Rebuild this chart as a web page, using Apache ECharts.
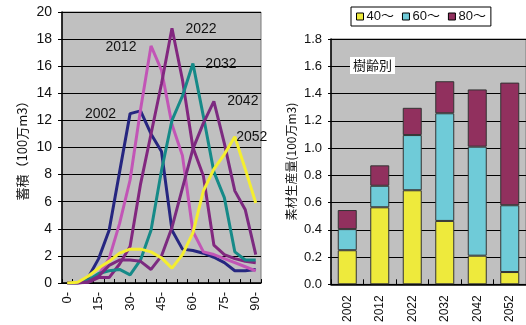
<!DOCTYPE html>
<html>
<head>
<meta charset="utf-8">
<script src="https://cdn.jsdelivr.net/npm/echarts@6/dist/echarts.min.js"></script>
<style>
  html, body { margin: 0; padding: 0; background: #ffffff; }
  #chart { width: 526px; height: 325px; }
</style>
</head>
<body>
<div id="chart"></div>
<script>
// Standing stock by age class (left) and timber output by tree age (right)
const ageClasses = ['0-','5-','10-','15-','20-','25-','30-','35-','40-','45-','50-','55-','60-','65-','70-','75-','80-','85-','90-'];
const yTicksLeft = [0, 2, 4, 6, 8, 10, 12, 14, 16, 18, 20];

const stock2002 = [0, 0, 0.4, 1.8, 3.9, 8.2, 12.5, 12.7, 11.0, 9.7, 3.9, 2.5, 2.4, 2.2, 1.9, 1.5, 0.9, 0.9, 1.0];
const stock2012 = [0, 0, 0.1, 0.6, 1.8, 4.4, 7.6, 12.8, 17.5, 15.7, 11.7, 9.4, 3.8, 2.3, 2.1, 1.8, 1.5, 1.2, 0.9];
const stock2022 = [0, 0, 0.05, 0.4, 0.4, 1.4, 2.7, 7.3, 11.0, 14.7, 18.8, 15.0, 10.0, 7.9, 2.8, 2.1, 1.8, 1.6, 1.5];
const stock2032 = [0, 0, 0.2, 0.7, 0.9, 1.0, 0.6, 1.7, 3.9, 8.3, 12.0, 13.8, 16.2, 12.3, 8.2, 6.3, 2.3, 1.7, 1.7];
const stock2042 = [0, 0, 0.1, 0.5, 1.3, 1.7, 1.7, 1.6, 1.0, 2.0, 4.1, 7.0, 9.9, 11.8, 13.4, 10.3, 6.8, 5.4, 2.1];
const stock2052 = [0, 0.05, 0.5, 1.1, 1.6, 2.2, 2.5, 2.5, 2.3, 1.85, 1.1, 2.1, 3.7, 6.8, 8.4, 9.5, 10.8, 8.4, 5.9];

const years = ['2002', '2012', '2022', '2032', '2042', '2052'];
const output40 = [0.25, 0.565, 0.69, 0.465, 0.21, 0.09];
const output60 = [0.155, 0.158, 0.405, 0.79, 0.80, 0.49];
const output80 = [0.14, 0.15, 0.20, 0.235, 0.42, 0.90];
const yTicksRight = [0, 0.2, 0.4, 0.6, 0.8, 1.0, 1.2, 1.4, 1.6, 1.8];

const FONT = '"Liberation Sans", Arial, "Noto Sans CJK JP", sans-serif';
const JP = '"Noto Sans CJK JP", "Liberation Sans", sans-serif';

// Each stock line carries its year label, anchored at the line's peak
function stockSeries(name, values, color, offset) {
  let peak = 0;
  values.forEach((v, i) => { if (v > values[peak]) peak = i; });
  return {
    name: name,
    type: 'line',
    xAxisIndex: 0,
    yAxisIndex: 0,
    data: values,
    symbol: 'none',
    smooth: false,
    lineStyle: { color: color, width: 3 },
    itemStyle: { color: color },
    z: 3,
    markPoint: {
      symbol: 'circle',
      symbolSize: 1,
      itemStyle: { color: 'rgba(0,0,0,0)' },
      silent: true,
      data: [{ coord: [peak, values[peak]], value: name }],
      label: {
        show: true,
        position: 'inside',
        offset: offset,
        formatter: name,
        color: '#111',
        fontSize: 14,
        fontFamily: FONT
      }
    }
  };
}

function barSeries(name, values, color) {
  return {
    name: name,
    type: 'bar',
    stack: 'age',
    xAxisIndex: 1,
    yAxisIndex: 1,
    data: values,
    barWidth: 19,
    itemStyle: { color: color, borderColor: '#333333', borderWidth: 1 }
  };
}

const chart = echarts.init(document.getElementById('chart'), null, { renderer: 'canvas' });

chart.setOption({
  animation: false,
  backgroundColor: '#ffffff',
  grid: [
    { left: 62, top: 12, width: 199, height: 271, show: true, backgroundColor: '#c0c0c0', borderColor: '#7a7a7a', borderWidth: 1 },
    { left: 331, top: 39, width: 197, height: 247, show: true, backgroundColor: '#c0c0c0', borderColor: '#7a7a7a', borderWidth: 1 }
  ],
  legend: {
    left: 351,
    top: 7,
    data: ['40～', '60～', '80～'],
    icon: 'rect',
    itemWidth: 7,
    itemHeight: 7,
    itemGap: 8,
    padding: [3, 5, 3, 5],
    borderColor: '#000000',
    borderWidth: 1,
    backgroundColor: '#ffffff',
    itemStyle: { borderColor: '#000000', borderWidth: 1 },
    textStyle: { fontSize: 13, color: '#111', fontFamily: FONT, padding: [0, 0, 0, -2] }
  },
  xAxis: [
    {
      type: 'category',
      gridIndex: 0,
      data: ageClasses,
      boundaryGap: true,
      axisLine: { lineStyle: { color: '#000', width: 1.5 } },
      axisTick: { show: true, inside: true, length: 4, interval: 0, lineStyle: { color: '#000' } },
      axisLabel: { interval: 2, rotate: 90, margin: 9, fontSize: 13, color: '#111', fontFamily: FONT },
      splitLine: { show: false }
    },
    {
      type: 'category',
      gridIndex: 1,
      data: years,
      axisLine: { lineStyle: { color: '#000', width: 1.5 } },
      axisTick: { show: true, inside: true, length: 5, lineStyle: { color: '#000' } },
      axisLabel: { rotate: 90, margin: 11, fontSize: 12, color: '#111', fontFamily: FONT },
      splitLine: { show: false }
    }
  ],
  yAxis: [
    {
      type: 'value',
      gridIndex: 0,
      min: yTicksLeft[0],
      max: yTicksLeft[yTicksLeft.length - 1],
      interval: yTicksLeft[1] - yTicksLeft[0],
      name: '蓄積（100万m3）',
      nameLocation: 'middle',
      nameRotate: 90,
      nameGap: 33,
      nameTextStyle: { fontSize: 13, color: '#111', fontFamily: JP },
      axisLine: { show: true, lineStyle: { color: '#000', width: 1.5 } },
      axisTick: { show: true, length: 4, lineStyle: { color: '#000' } },
      axisLabel: { fontSize: 14, color: '#111', margin: 10, fontFamily: FONT },
      splitLine: { show: true, lineStyle: { color: '#000', width: 1 } }
    },
    {
      type: 'value',
      gridIndex: 1,
      min: yTicksRight[0],
      max: yTicksRight[yTicksRight.length - 1],
      interval: 0.2,
      name: '素材生産量(100万m3)',
      nameLocation: 'middle',
      nameRotate: 90,
      nameGap: 34,
      nameTextStyle: { fontSize: 12, color: '#111', fontFamily: JP },
      axisLine: { show: true, lineStyle: { color: '#000', width: 1.5 } },
      axisTick: { show: true, length: 3, lineStyle: { color: '#000' } },
      axisLabel: { fontSize: 13, color: '#111', margin: 9, fontFamily: FONT,
                   formatter: v => v.toFixed(1) },
      splitLine: { show: true, lineStyle: { color: '#000', width: 1 } }
    }
  ],
  graphic: [
    {
      type: 'text',
      left: 350,
      top: 57,
      z: 10,
      style: {
        text: '樹齢別',
        fontSize: 13,
        fontFamily: JP,
        fill: '#111',
        backgroundColor: '#ffffff',
        padding: [2, 3, 2, 3]
      }
    }
  ],
  series: [
    stockSeries('2002', stock2002, '#262680', [-40, 3]),
    stockSeries('2012', stock2012, '#c255b6', [-30, 1]),
    stockSeries('2022', stock2022, '#82277f', [29, 1]),
    stockSeries('2032', stock2032, '#168a88', [28, 1]),
    stockSeries('2042', stock2042, '#7c2a80', [29, 0]),
    stockSeries('2052', stock2052, '#f4ee30', [17, 0]),
    barSeries('40～', output40, '#eeea3c'),
    barSeries('60～', output60, '#6fcbd8'),
    barSeries('80～', output80, '#91305e')
  ]
});
</script>
</body>
</html>
